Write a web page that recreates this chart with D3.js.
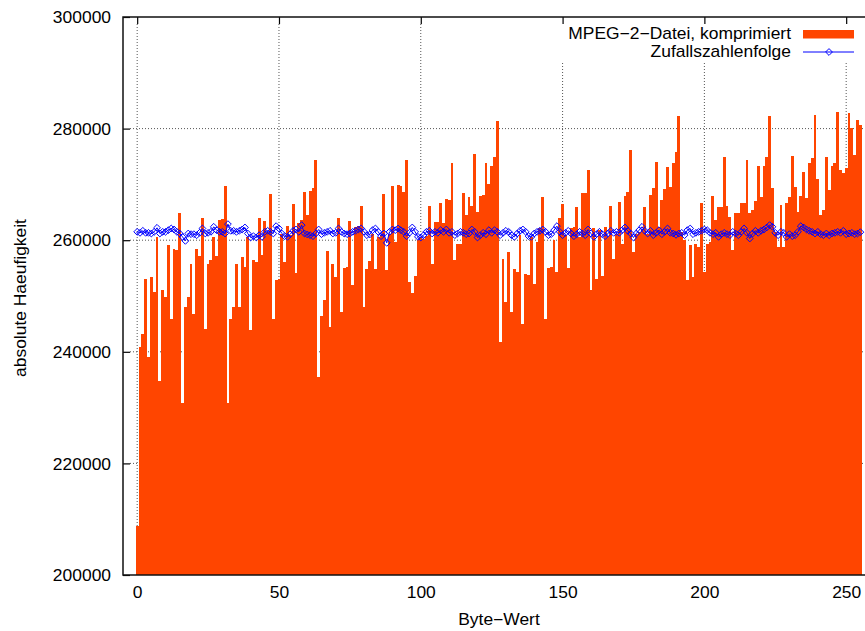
<!DOCTYPE html>
<html>
<head>
<meta charset="utf-8">
<script src="https://cdn.jsdelivr.net/npm/d3@7"></script>
<style>
  html, body { margin: 0; padding: 0; background: #fff; }
  svg { display: block; }
  text { font-family: "Liberation Sans", Arial, Helvetica, sans-serif; font-size: 16px; fill: #000; }
</style>
</head>
<body>
<svg id="chart" width="865" height="631"></svg>
<script>
// Byte values 0..255 on the x axis
const byteValues = d3.range(0, 256);

// Absolute frequency of each byte value in the compressed MPEG-2 file
const mpegCounts = [
  208700, 240800, 243200, 253100, 239000, 253400, 250700, 260600, 234800, 251100,
  249900, 259100, 245900, 258500, 258300, 264800, 230900, 248100, 249800, 255700,
  246800, 258500, 257100, 263900, 244100, 255800, 256500, 260600, 257100, 263600,
  263800, 269700, 230900, 245900, 248100, 255800, 248100, 257000, 255200, 260600,
  243900, 256500, 256100, 263900, 257300, 263500, 261500, 268300, 245900, 252800,
  253100, 261200, 256100, 262500, 260900, 266500, 254100, 263000, 263600, 268700,
  264500, 268900, 269300, 274400, 235400, 246500, 249300, 258100, 244500, 255800,
  253400, 263900, 247100, 255000, 255200, 263500, 251900, 262300, 262500, 266100,
  248100, 254900, 256200, 261200, 254900, 260600, 260900, 268300, 254600, 261200,
  269700, 259700, 269900, 269700, 268700, 274300, 252500, 250500, 253500, 260100,
  260500, 260300, 260700, 266100, 255800, 263300, 263300, 266700, 263100, 267300,
  267200, 273900, 256500, 259300, 259400, 268500, 264500, 267800, 266100, 275500,
  265100, 267900, 268100, 273900, 270100, 273300, 275000, 281300, 241700, 256600,
  248900, 257900, 247100, 254900, 254300, 260900, 244900, 254000, 253700, 260600,
  252200, 259700, 262100, 267800, 245900, 255000, 255200, 260000, 254300, 263900,
  266500, 260900, 255000, 262100, 262400, 265900, 260600, 268400, 268400, 272600,
  251000, 262100, 253100, 261800, 253500, 262400, 260600, 266100, 256700, 261200,
  266900, 259400, 267900, 268700, 276100, 257900, 261200, 261500, 261800, 265900,
  261200, 268100, 269300, 274100, 262400, 267200, 269100, 273100, 269500, 273900,
  275800, 282200, 261500, 260000, 252800, 259100, 253400, 259400, 258800, 266700,
  254300, 259400, 259700, 267900, 263600, 266000, 266000, 275000, 266100, 264200,
  258300, 264900, 264900, 266600, 266600, 274300, 264900, 265400, 267100, 273300,
  267700, 273300, 275000, 282200, 269300, 261500, 258800, 266300, 258800, 266600,
  267800, 275100, 269500, 265100, 267900, 272300, 267500, 273900, 274700, 282500,
  270900, 264500, 265400, 275000, 269000, 273300, 273900, 283000, 272600, 272100,
  272900, 282800, 280100, 275300, 281600, 280700
];

// Absolute frequency of each byte value in a random number sequence
const randomCounts = [
  261500, 261320, 261680, 261320, 261320, 261200, 261500, 262220, 261200, 261500,
  261500, 261800, 262100, 261920, 261500, 261200, 260600, 259880, 261200, 261080,
  261080, 260900, 261320, 262100, 261200, 261320, 261500, 262400, 261800, 261500,
  261500, 261200, 262880, 261680, 261680, 261500, 261680, 261920, 262280, 261200,
  260480, 260720, 260480, 260900, 260600, 261500, 261680, 261500, 261200, 262520,
  262100, 261200, 260720, 260600, 261080, 261680, 261920, 261500, 262700, 261200,
  261020, 260900, 260720, 261200, 261920, 261080, 261320, 261500, 261680, 261200,
  261320, 262100, 261500, 261200, 261080, 261200, 261500, 261680, 261920, 262100,
  261500, 260900, 261020, 261800, 262100, 261500, 260720, 261200, 259520, 261500,
  261920, 261800, 262100, 261800, 261500, 260720, 261320, 262280, 261500, 260600,
  260480, 260900, 261500, 261680, 261200, 261500, 261320, 261800, 261500, 261920,
  261320, 261500, 260900, 261200, 261500, 261320, 261080, 261200, 261920, 261500,
  260480, 260900, 261320, 261080, 261800, 261320, 261800, 261500, 260900, 261320,
  261680, 261500, 260900, 260600, 261200, 261680, 261920, 261500, 260720, 260600,
  261200, 261500, 261680, 261920, 261500, 260900, 261080, 261800, 262520, 261500,
  260900, 261320, 261680, 261200, 260720, 261080, 261500, 261200, 260900, 261920,
  261200, 260600, 261080, 261500, 261080, 260720, 261200, 261680, 261320, 261500,
  261320, 261800, 262280, 261680, 261200, 260480, 261200, 261800, 262400, 261680,
  261200, 261680, 260900, 261320, 261800, 261080, 261500, 262100, 261320, 261200,
  260960, 261200, 261320, 260900, 261800, 262100, 261080, 261320, 261500, 261680,
  261920, 261800, 261320, 261080, 261320, 260600, 261080, 261320, 261080, 260900,
  261500, 261200, 260900, 261500, 262100, 261320, 260300, 261200, 261680, 261320,
  261680, 261920, 262280, 262700, 262400, 261320, 260900, 261500, 261320, 260600,
  261080, 260720, 260900, 261500, 262520, 262280, 261920, 261680, 261500, 261200,
  261500, 261080, 260900, 261200, 260900, 261200, 261320, 261500, 261320, 261680,
  261080, 261200, 261320, 261080, 261200, 261440
];

const xTickValues = [0, 50, 100, 150, 200, 250];
const yTickValues = [200000, 220000, 240000, 260000, 280000, 300000];
const yGridValues = [220000, 240000, 260000, 280000];
const seriesNames = ["MPEG\u22122\u2212Datei, komprimiert", "Zufallszahlenfolge"];
const xTitle = "Byte\u2212Wert";
const yTitle = "absolute Haeufigkeit";

const barColor = "#ff4500";
const lineColor = "#0000ff";
const stretch = "scale(1.09,1)";

const svg = d3.select("#chart");
const plotLeft = 123, plotTop = 17, plotBottom = 575, plotRight = 865;

const x = d3.scaleLinear().domain([-5, 260]).range([plotLeft, plotLeft + 265 * 2.836]);
const y = d3.scaleLinear().domain([200000, 300000]).range([plotBottom, plotTop]);

svg.append("defs").append("clipPath").attr("id", "plotClip")
  .append("rect").attr("x", plotLeft).attr("y", plotTop)
  .attr("width", plotRight - plotLeft).attr("height", plotBottom - plotTop);

const plot = svg.append("g").attr("clip-path", "url(#plotClip)");

// dotted grid behind the bars
const gridStyle = g => g.attr("stroke", "#555").attr("stroke-width", 1).attr("stroke-dasharray", "1,2");
plot.append("g").selectAll("line").data(yGridValues).join("line")
  .attr("x1", plotLeft + 7).attr("x2", plotRight)
  .attr("y1", d => y(d)).attr("y2", d => y(d)).call(gridStyle);
plot.append("g").selectAll("line").data(xTickValues).join("line")
  .attr("x1", d => x(d)).attr("x2", d => x(d))
  .attr("y1", plotTop + 7).attr("y2", plotBottom).call(gridStyle);

// frequency boxes, one byte value wide
plot.append("g").attr("shape-rendering", "crispEdges").selectAll("rect")
  .data(byteValues).join("rect")
  .attr("x", d => x(d - 0.5))
  .attr("width", d => x(d + 0.5) - x(d - 0.5))
  .attr("y", d => y(mpegCounts[d]))
  .attr("height", d => y(200000) - y(mpegCounts[d]))
  .attr("fill", barColor);

// random sequence as line with open diamonds
const line = d3.line().x(d => x(d)).y(d => y(randomCounts[d]));
plot.append("path").datum(byteValues).attr("d", line)
  .attr("fill", "none").attr("stroke", lineColor).attr("stroke-width", 1);
const diamond = "M0,-3.4L3.4,0L0,3.4L-3.4,0Z";
plot.append("g").selectAll("path").data(byteValues).join("path")
  .attr("d", diamond)
  .attr("transform", d => `translate(${x(d)},${y(randomCounts[d])})`)
  .attr("fill", "none").attr("stroke", lineColor).attr("stroke-width", 1);

// key box
const key = svg.append("g");
key.append("rect").attr("x", 556).attr("y", plotTop + 1)
  .attr("width", plotRight - 556).attr("height", 44).attr("fill", "#fff");
key.append("text").attr("text-anchor", "end")
  .attr("transform", `translate(791,39.3) ${stretch}`).text(seriesNames[0]);
key.append("rect").attr("x", 803).attr("y", 30).attr("width", 51).attr("height", 8.5).attr("fill", barColor);
key.append("text").attr("text-anchor", "end")
  .attr("transform", `translate(791,57) ${stretch}`).text(seriesNames[1]);
key.append("line").attr("x1", 803).attr("x2", 854).attr("y1", 52).attr("y2", 52)
  .attr("stroke", lineColor).attr("stroke-width", 1);
key.append("path").attr("d", diamond).attr("transform", "translate(829,52)")
  .attr("fill", "none").attr("stroke", lineColor).attr("stroke-width", 1);

// axes
const yAxis = svg.append("g").attr("transform", `translate(${plotLeft},0)`)
  .call(d3.axisLeft(y).tickValues(yTickValues).tickFormat(d3.format("d")).tickSize(-7).tickPadding(11));
const xAxisBottom = svg.append("g").attr("transform", `translate(0,${plotBottom})`)
  .call(d3.axisBottom(x).tickValues(xTickValues).tickSize(0).tickPadding(12));
const xAxisTop = svg.append("g").attr("transform", `translate(0,${plotTop})`)
  .call(d3.axisTop(x).tickValues(xTickValues).tickFormat("").tickSize(-7));

[yAxis, xAxisBottom, xAxisTop].forEach(a => {
  a.select(".domain").remove();
  a.attr("font-family", null).attr("font-size", null);
  a.selectAll(".tick line").attr("stroke", "#000").attr("stroke-width", 1.2);
  a.selectAll(".tick text").attr("fill", "#000").attr("transform", stretch);
});
yAxis.selectAll(".tick text").attr("dy", "0.36em");

// border, open on the right
svg.append("path")
  .attr("d", `M${plotRight},${plotTop}H${plotLeft}V${plotBottom}H${plotRight}`)
  .attr("fill", "none").attr("stroke", "#111").attr("stroke-width", 1.5);

// axis titles
svg.append("text").attr("text-anchor", "middle")
  .attr("transform", `translate(499,625) ${stretch}`).text(xTitle);
svg.append("text").attr("text-anchor", "middle")
  .attr("transform", `translate(26,298) rotate(-90) ${stretch}`).text(yTitle);
</script>
</body>
</html>
